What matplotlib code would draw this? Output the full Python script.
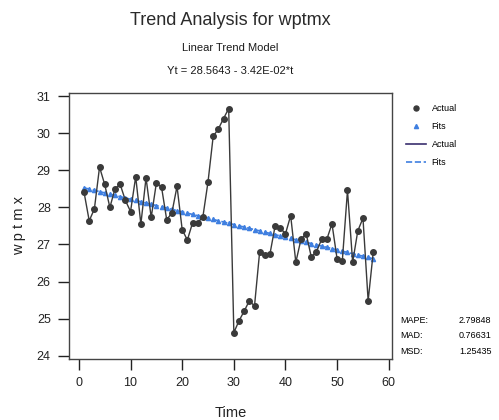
import numpy as np
import matplotlib
matplotlib.use("Agg")
import matplotlib.pyplot as plt
from matplotlib.lines import Line2D

plt.rcParams['font.family'] = ['Liberation Sans', 'DejaVu Sans']

# observed series, t = 1..57
actual = [28.41, 27.64, 27.96, 29.09, 28.62, 28.00, 28.51, 28.62, 28.19, 27.89,
          28.83, 27.55, 28.80, 27.73, 28.66, 28.55, 27.67, 27.85, 28.57, 27.40,
          27.12, 27.58, 27.59, 27.74, 28.69, 29.92, 30.12, 30.40, 30.67, 24.62,
          24.94, 25.20, 25.48, 25.34, 26.81, 26.72, 26.75, 27.51, 27.44, 27.29,
          27.78, 26.52, 27.14, 27.29, 26.66, 26.81, 27.14, 27.14, 27.56, 26.60,
          26.56, 28.46, 26.52, 27.37, 27.71, 25.48, 26.81]
intercept = 28.5643
slope = -3.42e-02
stat_names = ["MAPE:", "MAD:", "MSD:"]
stat_values = ["2.79848", "0.76631", "1.25435"]
xticks = [0, 10, 20, 30, 40, 50, 60]
yticks = [24, 25, 26, 27, 28, 29, 30, 31]

t = np.arange(1, len(actual) + 1)
fits = intercept + slope * t

c_act = '#3a3a3a'
c_fit = '#3f7fe0'

fig = plt.figure(figsize=(4.99, 4.20), dpi=100)
ax = fig.add_axes([0.138, 0.145, 0.648, 0.634])

ax.plot(t, fits, color=c_fit, lw=1.2, ls='--', zorder=2)
ax.plot(t, fits, ls='none', marker='^', ms=3, color=c_fit, zorder=3)
ax.plot(t, actual, color=c_act, lw=1.0, zorder=4)
ax.plot(t, actual, ls='none', marker='o', ms=4, color=c_act, zorder=5)

ax.set_xlim(-1.94, 60.66)
ax.set_ylim(23.905, 31.095)
ax.set_xticks(xticks)
ax.set_yticks(yticks)
ax.tick_params(direction='out', length=8, width=1, colors='#222222', labelsize=9, pad=5)
for s in ax.spines.values():
    s.set_color('#444444')
    s.set_linewidth(1.0)

ax.set_xlabel("Time", fontsize=10.5, labelpad=12, color='#222222')
ax.set_ylabel("w p t m x", fontsize=10.5, labelpad=8, color='#222222')

fig.text(0.461, 0.952, "Trend Analysis for wptmx", ha='center', va='center', fontsize=13, color='#2a2a2a')
fig.text(0.461, 0.886, "Linear Trend Model", ha='center', va='center', fontsize=8, color='#1a1a1a')
fig.text(0.461, 0.831, "Yt = 28.5643 - 3.42E-02*t", ha='center', va='center', fontsize=8, color='#1a1a1a')

handles = [
    Line2D([], [], ls='none', marker='o', ms=3.6, color=c_act),
    Line2D([], [], ls='none', marker='^', ms=3, color=c_fit),
    Line2D([], [], color='#3a2f6e', lw=1.2),
    Line2D([], [], color=c_fit, lw=1.2, ls='--'),
]
fig.legend(handles, ["Actual", "Fits", "Actual", "Fits"], loc='upper left',
           bbox_to_anchor=(0.798, 0.772), frameon=False, fontsize=6.5,
           handlelength=2.2, handletextpad=0.6, labelspacing=1.0)

for i, (name, val) in enumerate(zip(stat_names, stat_values)):
    y = 0.236 - i * 0.036
    fig.text(0.803, y, name, ha='left', va='center', fontsize=6.5)
    fig.text(0.985, y, val, ha='right', va='center', fontsize=6.5)

fig.savefig("out.png", dpi=100)
